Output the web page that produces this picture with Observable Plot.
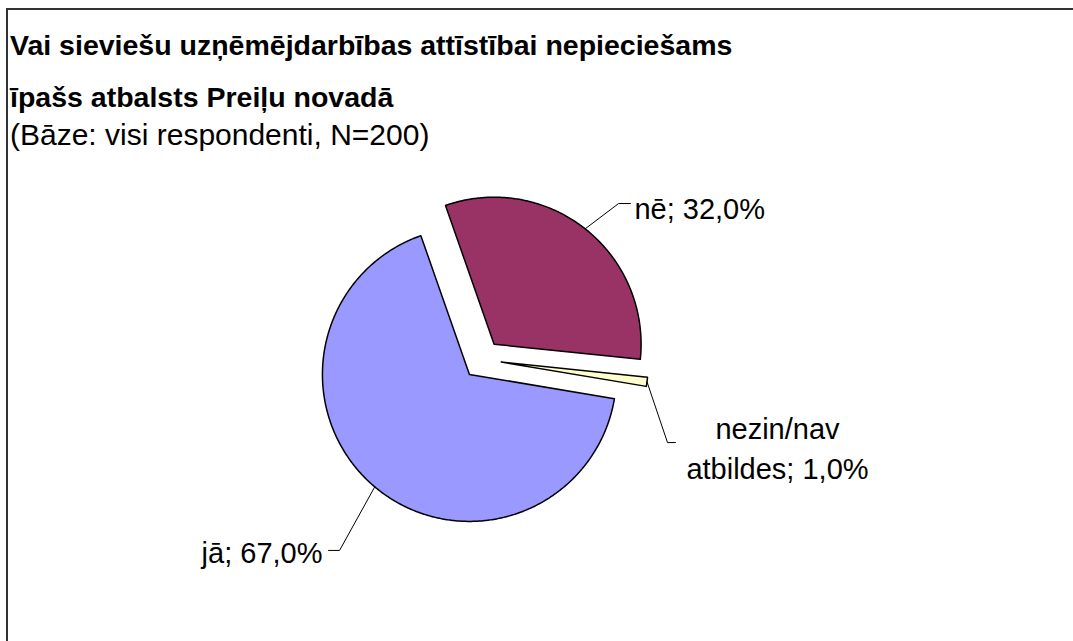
<!DOCTYPE html>
<html>
<head>
<meta charset="utf-8">
<script src="https://cdn.jsdelivr.net/npm/d3@7"></script>
<script src="https://cdn.jsdelivr.net/npm/@observablehq/plot@0.6"></script>
<style>
  html, body { margin: 0; padding: 0; background: #fff; }
  body { width: 1073px; height: 641px; overflow: hidden; position: relative;
         font-family: "Liberation Sans", Arial, sans-serif; color: #000; }
  #frame { position: absolute; left: 6px; top: 8px; right: 0; bottom: 0;
           border-left: 2px solid #333; border-top: 2px solid #333; }
  #header { position: relative; height: 150px; }
  .ln { position: absolute; left: 2px; white-space: nowrap; line-height: 1; }
  #t1, #t2 { font-weight: bold; font-size: 28.5px; }
  #t1 { top: 21px; }
  #t2 { top: 73px; }
  #sub { font-size: 30px; top: 110px; }
  #chart svg { display: block; }
</style>
</head>
<body>
<div id="frame">
  <div id="header">
    <div class="ln" id="t1"></div>
    <div class="ln" id="t2"></div>
    <div class="ln" id="sub"></div>
  </div>
  <div id="chart"></div>
</div>
<script>
// ---- data ----
const titleLines = ["Vai sieviešu uzņēmējdarbības attīstībai nepieciešams", "īpašs atbalsts Preiļu novadā"];
const subtitle = "(Bāze: visi respondenti, N=200)";
const categories = ["jā", "nē", "nezin/nav atbildes"];
const values = [67.0, 32.0, 1.0];
const colors = ["#9999FF", "#993366", "#FFFFCC"];

// ---- layout settings ----
const firstSliceAngle = 99.5;          // degrees, clockwise from 12 o'clock
const explode = 19.5 / 147;            // explosion in radius units
const labelLayout = [
  { elbow: [-0.969, -1.299], end: [-1.044, -1.299], text: [-1.085, -1.299], anchor: "end", wrap: false },
  { elbow: [0.929, 1.061], end: [1.010, 1.061], text: [1.037, 1.041], anchor: "start", wrap: false },
  { elbow: [1.262, -0.565], end: [1.316, -0.565], text: [2.010, -0.59], anchor: "middle", wrap: true }
];

document.getElementById("t1").textContent = titleLines[0];
document.getElementById("t2").textContent = titleLines[1];
document.getElementById("sub").textContent = subtitle;

const rows = categories.map((c, i) => ({ category: c, value: values[i], color: colors[i] }));
const a0 = firstSliceAngle * Math.PI / 180;
const arcs = d3.pie().value(d => d.value).sort(null).startAngle(a0).endAngle(a0 + 2 * Math.PI)(rows);

const fmt = v => v.toFixed(1).replace(".", ",") + "%";

const marks = [];
const leaders = [];
const labels = [];
arcs.forEach((a, i) => {
  const mid = (a.startAngle + a.endAngle) / 2;
  const ox = explode * Math.sin(mid), oy = explode * Math.cos(mid);
  const pts = [{ x: ox, y: oy }];
  const n = Math.max(2, Math.ceil((a.endAngle - a.startAngle) / 0.01));
  for (let k = 0; k <= n; k++) {
    const t = a.startAngle + (a.endAngle - a.startAngle) * k / n;
    pts.push({ x: ox + Math.sin(t), y: oy + Math.cos(t) });
  }
  marks.push(Plot.line(pts, { x: "x", y: "y", fill: a.data.color, stroke: "#000", strokeWidth: 1.5, curve: "linear-closed" }));
  const L = labelLayout[i];
  leaders.push(Plot.line([
    { x: ox + Math.sin(mid), y: oy + Math.cos(mid) },
    { x: L.elbow[0], y: L.elbow[1] },
    { x: L.end[0], y: L.end[1] }
  ], { x: "x", y: "y", stroke: "#000", strokeWidth: 1 }));
  const cat = L.wrap ? a.data.category.replace(" ", "\n") : a.data.category;
  labels.push({ x: L.text[0], y: L.text[1], label: cat + "; " + fmt(a.data.value), anchor: L.anchor });
});

const cx = 473.5, cy = 199, R = 147;
const chart = Plot.plot({
  width: 1065,
  height: 481,
  margin: 0,
  x: { domain: [-1, 1], range: [cx - R, cx + R], axis: null },
  y: { domain: [-1, 1], range: [cy + R, cy - R], axis: null },
  style: { fontFamily: "'Liberation Sans', Arial, sans-serif", background: "transparent", overflow: "visible" },
  marks: [
    ...marks,
    ...leaders,
    ...labels.map(d => Plot.text([d], {
      x: "x", y: "y", text: "label", textAnchor: d.anchor, lineAnchor: "middle",
      fontSize: 29, lineHeight: 1.38, fill: "#000"
    }))
  ]
});
document.getElementById("chart").appendChild(chart);
</script>
</body>
</html>
